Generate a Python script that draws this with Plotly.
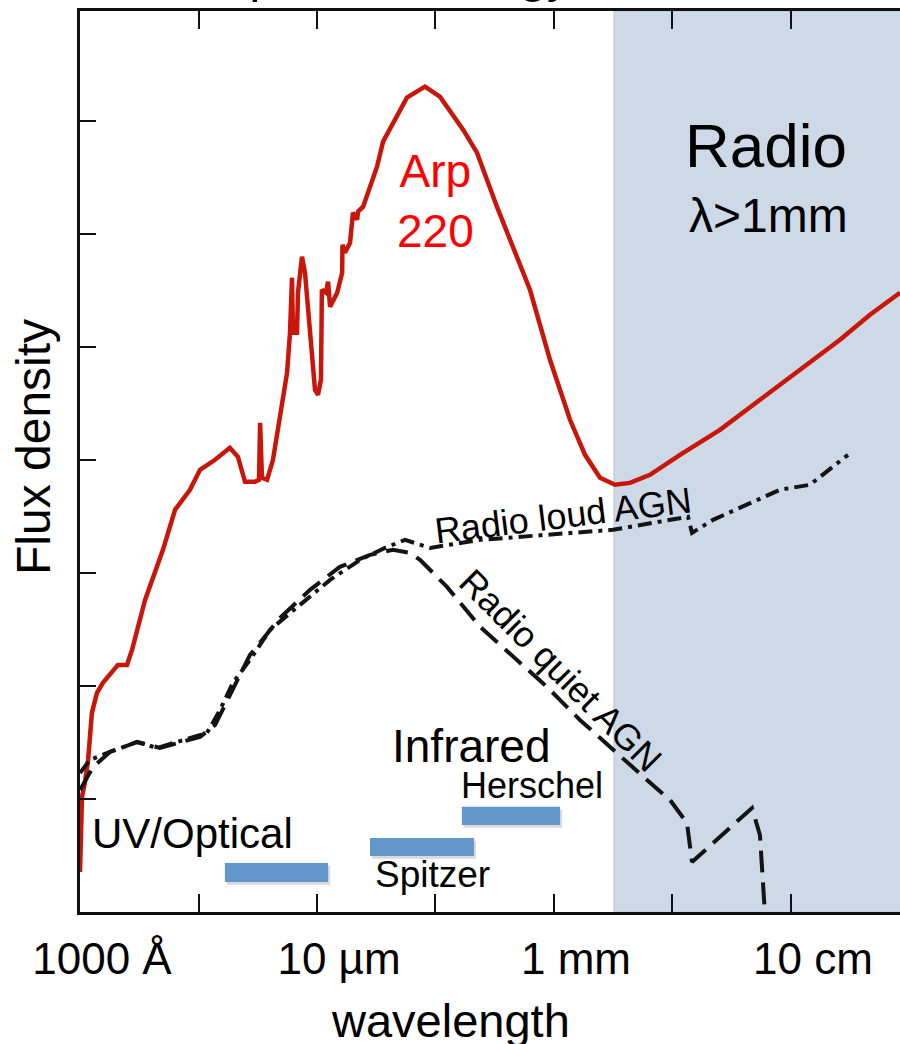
import plotly.graph_objects as go

# ---------------- data (wavelength in micrometres, flux in arbitrary units) -------------
arp_wl = [0.100, 0.104, 0.110, 0.117, 0.126, 0.139, 0.156, 0.209, 0.249, 0.275,
          0.354, 0.501, 0.634, 0.847, 1.03, 1.38, 1.84, 2.15, 2.47, 3.00,
          3.24, 3.31, 3.43, 3.79, 4.25, 4.88, 5.59, 5.92, 6.15, 6.27,
          6.78, 6.91, 7.47, 7.92, 8.73, 9.62, 10.2, 10.8, 11.0, 11.9,
          12.4, 12.9, 14.8, 16.3, 16.4, 17.2, 19.0, 20.1, 21.8, 22.2,
          24.5, 28.0, 32.1, 36.1, 43.8, 57.4, 81.5, 109, 171, 224,
          330, 451, 627, 925, 1365, 1827, 2445, 3273, 4375, 6457,
          11570, 25160, 54700, 119100, 259200, 464500, 831800]
arp_flux = [0.354, 1.018, 1.142, 1.345, 1.761, 1.938, 2.027, 2.186, 2.186, 2.319,
            2.761, 3.204, 3.558, 3.735, 3.912, 4.000, 4.106, 4.027, 3.805, 3.805,
            3.823, 4.327, 3.841, 3.823, 4.000, 4.416, 4.770, 5.124, 5.611, 5.124,
            5.124, 5.478, 5.796, 5.655, 5.177, 4.619, 4.575, 4.708, 5.504, 5.478,
            5.575, 5.354, 5.478, 5.655, 5.903, 5.832, 5.920, 6.186, 6.124, 6.195,
            6.239, 6.416, 6.593, 6.814, 6.982, 7.204, 7.301, 7.212, 6.920, 6.717,
            6.239, 5.885, 5.504, 4.885, 4.354, 4.044, 3.841, 3.779, 3.796, 3.867,
            4.044, 4.265, 4.531, 4.796, 5.062, 5.283, 5.478]

loud_wl = [0.100, 0.121, 0.179, 0.303, 0.447, 0.659, 0.900, 1.18, 1.52, 1.95,
           2.72, 4.01, 7.19, 12.9, 23.1, 37.5, 55.3, 89.9, 238, 873,
           3148, 13520, 14620, 21980, 42560, 80750, 144600, 302700]
loud_flux = [1.230, 1.345, 1.416, 1.504, 1.451, 1.504, 1.540, 1.584, 1.788, 2.027,
             2.230, 2.496, 2.717, 2.938, 3.115, 3.221, 3.292, 3.221, 3.292, 3.336,
             3.381, 3.496, 3.354, 3.469, 3.602, 3.735, 3.779, 4.044]

quiet_wl = [0.100, 0.129, 0.179, 0.303, 0.473, 0.698, 1.03, 1.38, 1.84, 2.72,
            4.88, 8.73, 15.6, 28.0, 43.8, 61.0, 74.0, 125, 238, 451,
            873, 1656, 3148, 6095, 9530, 13250, 14620, 46880, 54700, 60400]
quiet_flux = [1.080, 1.283, 1.416, 1.504, 1.451, 1.504, 1.549, 1.655, 1.920, 2.274,
              2.602, 2.850, 3.053, 3.159, 3.204, 3.177, 3.115, 2.876, 2.522, 2.257,
              1.991, 1.699, 1.434, 1.168, 0.991, 0.788, 0.442, 0.920, 0.681, -0.027]

# instrument coverage bars: name, wl start, wl end, flux low, flux high
band_names = ["UV/Optical", "Spitzer", "Herschel"]
band_wl_start = [1.67, 28.0, 167]
band_wl_end = [12.4, 211, 1125]
band_lo = [0.265, 0.496, 0.770]
band_hi = [0.434, 0.655, 0.930]

radio_start_wl = 3206          # start of the shaded radio regime
x_tick_vals = [0.1, 1, 10, 100, 1e3, 1e4, 1e5, 1e6]
x_tick_text = ["1000 Å", "", "10 µm", "", "1 mm", "", "10 cm", ""]
y_tick_vals = [1, 2, 3, 4, 5, 6, 7]

# ---------------- figure ----------------
W, H = 900, 1044
ML, MT, MR, MB = 80, 11, 0, 132
FONT = "Arial, Liberation Sans, Helvetica, sans-serif"


def paper(px, py):
    """pixel position -> paper coords for text placement"""
    return (px - ML) / (W - ML - MR), (H - MB - py) / (H - MB - MT)


fig = go.Figure()

fig.add_trace(go.Scatter(x=arp_wl, y=arp_flux, mode="lines", name="Arp 220",
                         line=dict(color="#c8160a", width=4.5)))
fig.add_trace(go.Scatter(x=loud_wl, y=loud_flux, mode="lines", name="Radio loud AGN",
                         line=dict(color="#141414", width=4, dash="14px,6px,4px,6px")))
fig.add_trace(go.Scatter(x=quiet_wl, y=quiet_flux, mode="lines", name="Radio quiet AGN",
                         line=dict(color="#141414", width=4, dash="22px,10px")))

shapes = [dict(type="rect", xref="x", yref="paper", x0=radio_start_wl, x1=1e7, y0=0, y1=1,
               fillcolor="#cdd9e6", line=dict(color="#b6c7da", width=1), layer="below")]
for i in range(len(band_names)):
    shapes.append(dict(type="rect", xref="x", yref="y",
                       x0=band_wl_start[i] * 1.04, x1=band_wl_end[i] * 1.04,
                       y0=band_lo[i] - 0.025, y1=band_hi[i] - 0.025,
                       fillcolor="rgba(80,80,80,0.22)", line=dict(width=0), layer="below"))
    shapes.append(dict(type="rect", xref="x", yref="y", x0=band_wl_start[i], x1=band_wl_end[i],
                       y0=band_lo[i], y1=band_hi[i],
                       fillcolor="#6396cb", line=dict(width=0), layer="above"))

ann = []


def txt(text, px, py, size, color="black", angle=0):
    x, y = paper(px, py)
    ann.append(dict(text=text, x=x, y=y, xref="paper", yref="paper", showarrow=False,
                    xanchor="center", yanchor="middle", textangle=angle,
                    font=dict(family=FONT, size=size, color=color)))


txt("Spectral Energy Distribution", 526, -24.5, 50)
txt("Arp<br>220", 435, 201, 46, color="#ff0000")
txt("Radio", 766, 145, 62)
txt("λ>1mm", 768, 216, 48)
txt("Infrared", 471, 745.5, 46)
txt("Herschel", 532, 785, 36)
txt("Spitzer", 432, 874, 37)
txt("UV/Optical", 192, 833, 42)
txt("Radio loud AGN", 563, 515, 36, angle=-7)
txt("Radio quiet AGN", 561, 670, 36, angle=45)
txt("wavelength", 450, 1020, 47)
txt("Flux density", 33, 447, 48, angle=-90)

fig.update_layout(
    width=W, height=H, margin=dict(l=ML, r=MR, t=MT, b=MB, pad=0),
    paper_bgcolor="white", plot_bgcolor="rgba(0,0,0,0)",
    showlegend=False, shapes=shapes, annotations=ann,
    font=dict(family=FONT, color="black"),
)
fig.update_xaxes(type="log", range=[-1, 5.92], tickvals=x_tick_vals, ticktext=x_tick_text,
                 ticks="inside", ticklen=18, tickwidth=2, tickcolor="#111",
                 showline=True, linewidth=2.5, linecolor="#111", mirror="ticks",
                 showgrid=False, zeroline=False, tickfont=dict(size=44, family=FONT),
                 ticklabelshift=22, ticklabelstandoff=6)
fig.update_yaxes(range=[0, 7.97], tickvals=y_tick_vals, showticklabels=False,
                 ticks="inside", ticklen=16, tickwidth=2, tickcolor="#111",
                 showline=True, linewidth=2.5, linecolor="#111", mirror=False,
                 showgrid=False, zeroline=False)

fig.write_html("out.html", config={"displayModeBar": False},
               post_script="document.body.style.margin='0';document.body.style.overflow='hidden';")
